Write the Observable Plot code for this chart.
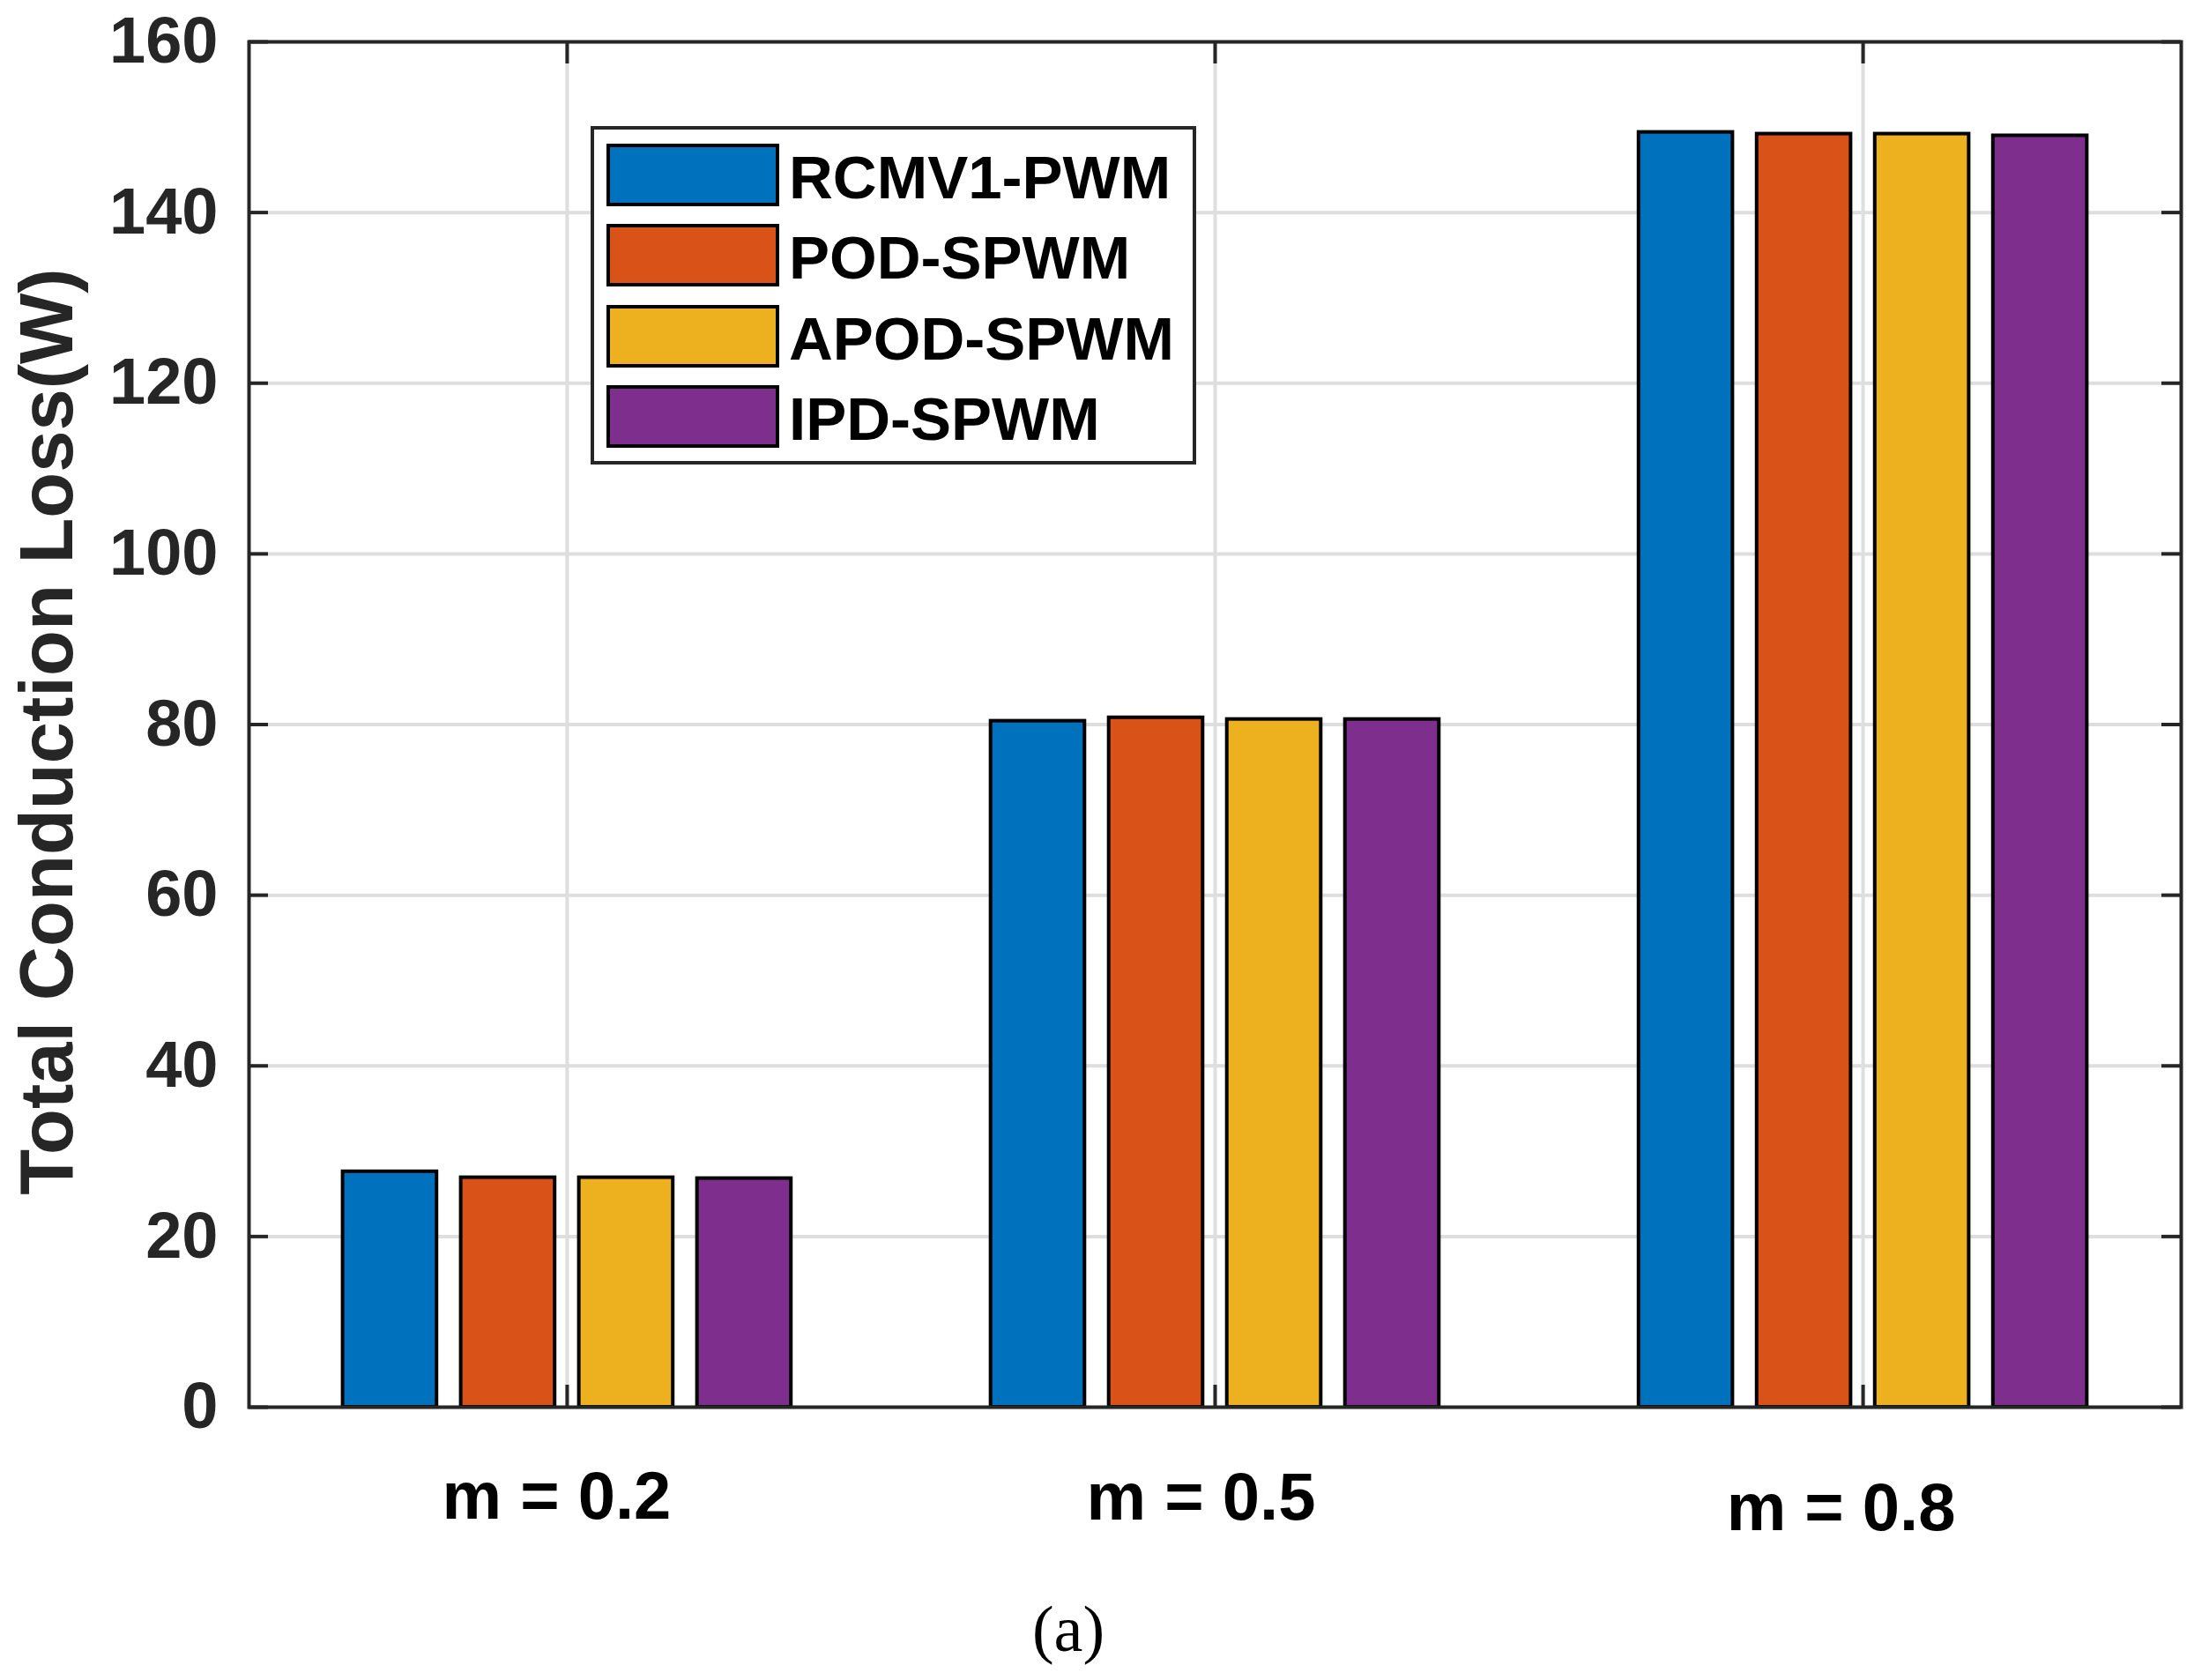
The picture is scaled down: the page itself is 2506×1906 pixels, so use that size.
<!DOCTYPE html>
<html>
<head>
<meta charset="utf-8">
<script src="https://cdn.jsdelivr.net/npm/d3@7"></script>
<script src="https://cdn.jsdelivr.net/npm/@observablehq/plot@0.6"></script>
<style>
  html, body { margin: 0; padding: 0; background: #fff; }
  #wrap { position: relative; width: 2506px; height: 1906px; }
  #legend { position: absolute; left: 670px; top: 143px; width: 687px; height: 384px;
    box-sizing: border-box; border: 4px solid #262626; background: #fff; }
  .sw { position: absolute; left: 14px; width: 196px; height: 71px; box-sizing: border-box; border: 4px solid #000; }
  .lt { position: absolute; left: 221px; font: bold 69px/1 "Liberation Sans", Arial, sans-serif; color: #000; white-space: nowrap; }
  #caption { position: absolute; top: 1811px; left: 1212px; transform: translateX(-50%);
    font: normal 74px/1 "Liberation Serif", "Times New Roman", serif; color: #000; white-space: nowrap; }
</style>
</head>
<body>
<div id="wrap"></div>
<script>
// ---- data ----
const groups = ["m = 0.2", "m = 0.5", "m = 0.8"];
const series = ["RCMV1-PWM", "POD-SPWM", "APOD-SPWM", "IPD-SPWM"];
const rcmv1 = [27.6, 80.4, 149.4];
const pod   = [26.9, 80.8, 149.2];
const apod  = [26.9, 80.6, 149.2];
const ipd   = [26.8, 80.6, 149.0];
const yTicks = [0, 20, 40, 60, 80, 100, 120, 140, 160];
const yLabel = "Total Conduction Loss(W)";
const caption = "(a)";
const colors = ["#0072BD", "#D95319", "#EDB120", "#7E2F8E"];

// ---- layout ----
const W = 2506, H = 1790;
const mL = 282, mR = 32, mT = 47, mB = 194;
const frameW = W - mL - mR, frameH = H - mT - mB;
const barStep = 0.1823, barW = 0.145;

const values = [rcmv1, pod, apod, ipd];
const table = [];
groups.forEach((g, gi) => series.forEach((s, si) => {
  table.push({group: g, gi, series: s, si, value: values[si][gi]});
}));

const labelNudge = [{dx: -12, dy: 126}, {dx: -16, dy: 127}, {dx: -25, dy: 139}];

const plot = Plot.plot({
  width: W, height: H,
  marginLeft: mL, marginRight: mR, marginTop: mT, marginBottom: mB,
  style: {fontFamily: '"Liberation Sans", Arial, sans-serif', fontWeight: "bold", color: "#262626", background: "#fff"},
  x: {type: "linear", domain: [0.509, 3.491], axis: null},
  y: {domain: [0, 160], axis: null},
  color: {domain: series, range: colors},
  marks: [
    Plot.gridY(yTicks, {stroke: "#dedede", strokeOpacity: 1, strokeWidth: 4}),
    Plot.gridX([1, 2, 3], {stroke: "#dedede", strokeOpacity: 1, strokeWidth: 4}),
    Plot.rect(table, {
      x1: d => d.gi + 1 + (d.si - 1.5) * barStep - barW / 2,
      x2: d => d.gi + 1 + (d.si - 1.5) * barStep + barW / 2,
      y1: 0, y2: "value",
      fill: "series", stroke: "#000", strokeWidth: 4
    }),
    Plot.tickY(yTicks, {y: d => d, stroke: "#262626", strokeWidth: 4, insetRight: frameW - 22}),
    Plot.tickY(yTicks, {y: d => d, stroke: "#262626", strokeWidth: 4, insetLeft: frameW - 22}),
    Plot.tickX([1, 2, 3], {x: d => d, stroke: "#262626", strokeWidth: 4, insetTop: frameH - 25}),
    Plot.tickX([1, 2, 3], {x: d => d, stroke: "#262626", strokeWidth: 4, insetBottom: frameH - 25}),
    Plot.frame({stroke: "#262626", strokeWidth: 4}),
    Plot.axisY(yTicks, {tickSize: 0, tickPadding: 35, fontSize: 74, label: null, color: "#262626"}),
    Plot.text([yLabel], {text: d => d, frameAnchor: "left", rotate: -90, dx: 81 - mL, dy: 8,
      lineAnchor: "bottom", textAnchor: "middle", fontSize: 85, fill: "#262626"}),
    ...groups.map((g, i) => Plot.text([g], {text: d => d, x: () => i + 1, frameAnchor: "bottom",
      lineAnchor: "bottom", textAnchor: "middle", dx: labelNudge[i].dx, dy: labelNudge[i].dy,
      fontSize: 76, fill: "#000"}))
  ]
});

const wrap = document.getElementById("wrap");
wrap.appendChild(plot);

// legend (inside the axes, upper left)
const legend = document.createElement("div");
legend.id = "legend";
series.forEach((s, i) => {
  const sw = document.createElement("div");
  sw.className = "sw";
  sw.style.top = (16 + i * 91.3) + "px";
  sw.style.background = colors[i];
  legend.appendChild(sw);
  const t = document.createElement("div");
  t.className = "lt";
  t.style.top = (20 + i * 91.3) + "px";
  t.textContent = s;
  legend.appendChild(t);
});
wrap.appendChild(legend);

const cap = document.createElement("div");
cap.id = "caption";
cap.textContent = caption;
wrap.appendChild(cap);
</script>
</body>
</html>
